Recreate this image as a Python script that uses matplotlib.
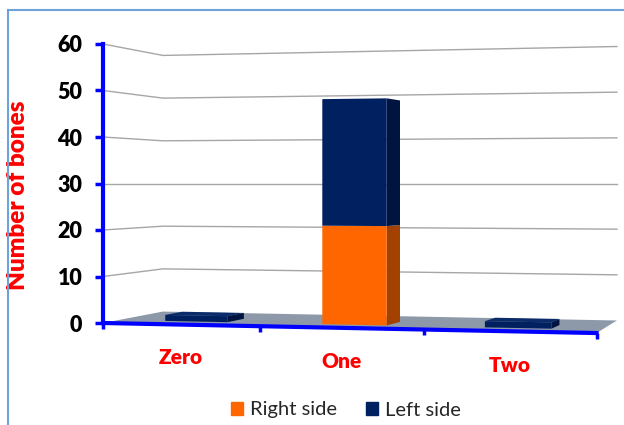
import matplotlib.pyplot as plt
from matplotlib.lines import Line2D
from matplotlib.patches import Patch

plt.rcParams['font.family'] = ['Lato', 'DejaVu Sans']

# bone counts per category
categories = ['Zero', 'One', 'Two']
right_side = [0, 21, 0]
left_side = [0, 27, 0]
series_names = ['Right side', 'Left side']
yticks = [0, 10, 20, 30, 40, 50, 60]

front_colors = ['#FF6600', '#002060']
side_colors = ['#A34100', '#001440']
floor_color = '#8D99A8'
axis_blue = '#0000FF'

# simple perspective: u = category position (0..3), v = value, d = depth (0 front, 1 back)
EYE = 30.0


def xf(u):
    return 0.93 * u + 0.023 * u * u


def xb(u):
    return 0.364 + 0.919 * u


def proj(u, v, d):
    kf = 1 + 0.072 * u / 3
    kb = 0.918 + 0.064 * u / 3
    k = (1 - d) * kf + d * kb
    x = (1 - d) * xf(u) + d * xb(u)
    return x, EYE + (v - EYE) * k


def face(pts, color, z=3):
    xy = [proj(*p) for p in pts]
    ax.fill([p[0] for p in xy], [p[1] for p in xy], color=color,
            lw=0, zorder=z, clip_on=False)


fig = plt.figure(figsize=(6.24, 4.25), dpi=100)
ax = fig.add_axes([103 / 624, 102 / 425, 494 / 624, 279 / 425])
ax.set_xlim(0, 3)
ax.set_ylim(0, 60)

# floor
face([(0, 0, 0), (3, 0, 0), (3, 0, 1), (0, 0, 1)], floor_color, z=1)

# gridlines on the side and back walls
for v in yticks[1:]:
    pts = [proj(0, v, 0), proj(0, v, 1), proj(3, v, 1)]
    ax.plot([p[0] for p in pts], [p[1] for p in pts], color='#A6A6A6',
            lw=1, zorder=0, clip_on=False)

# stacked 3d columns
bar_w = 0.4
d0, d1 = 0.27, 0.56
min_h = 1.3  # zero-height columns still show as a thin slab
for i in range(len(categories)):
    u0 = i + 0.5 - bar_w / 2
    u1 = i + 0.5 + bar_w / 2
    base = 0
    for vals, fc, sc in zip([right_side, left_side], front_colors, side_colors):
        h = vals[i]
        if h == 0:
            continue
        top = base + h
        face([(u1, base, d0), (u1, base, d1), (u1, top, d1), (u1, top, d0)], sc)
        face([(u0, base, d0), (u1, base, d0), (u1, top, d0), (u0, top, d0)], fc)
        base = top
    if base == 0:
        top = min_h
        face([(u0, top, d0), (u1, top, d0), (u1, top, d1), (u0, top, d1)], '#0B2C6A')
        face([(u1, 0, d0), (u1, 0, d1), (u1, top, d1), (u1, top, d0)], side_colors[1])
        face([(u0, 0, d0), (u1, 0, d0), (u1, top, d0), (u0, top, d0)], front_colors[1])

# front category axis
fx = [proj(u, 0, 0) for u in (0, 3)]
ax.plot([p[0] for p in fx], [p[1] for p in fx], color=axis_blue, lw=3,
        zorder=5, clip_on=False)
for u in range(4):
    p0 = proj(u, 0, 0)
    ax.plot([p0[0], p0[0]], [p0[1], p0[1] - 1.2], color=axis_blue, lw=2.5,
            zorder=5, clip_on=False, solid_capstyle='butt')
for i, name in enumerate(categories):
    x, y = proj(i + 0.5, -7, 0)
    ax.text(x, y, name, color='red', fontsize=15, fontweight='heavy',
            ha='center', va='center')

# value axis
for s in ['top', 'right', 'bottom']:
    ax.spines[s].set_visible(False)
ax.spines['left'].set_color(axis_blue)
ax.spines['left'].set_linewidth(3)
ax.set_xticks([])
ax.set_yticks(yticks)
ax.tick_params(axis='y', colors=axis_blue, width=2.5, length=6, pad=9,
               labelcolor='black', labelsize=15.5)
for t in ax.get_yticklabels():
    t.set_fontweight('heavy')
ax.set_ylabel('Number of bones', color='red', fontsize=17.5, fontweight='heavy',
              va='center')
ax.yaxis.set_label_coords(-0.172, 0.459)
ax.patch.set_alpha(0)

handles = [Patch(color=c) for c in front_colors]
fig.legend(handles, series_names, loc='center', bbox_to_anchor=(346 / 624, 1 - 410 / 425),
           ncol=2, frameon=False, fontsize=14.5, handlelength=0.6, handleheight=0.6,
           handletextpad=0.35, columnspacing=1.4, labelcolor='#262626')

# chart area border
fig.add_artist(Line2D([8 / 624, 8 / 624], [0, 1 - 10 / 425], color='#6FA3D8', lw=1.5))
fig.add_artist(Line2D([8 / 624, 1], [1 - 10 / 425, 1 - 10 / 425], color='#6FA3D8', lw=1.5))

fig.savefig('out.png', dpi=100)
